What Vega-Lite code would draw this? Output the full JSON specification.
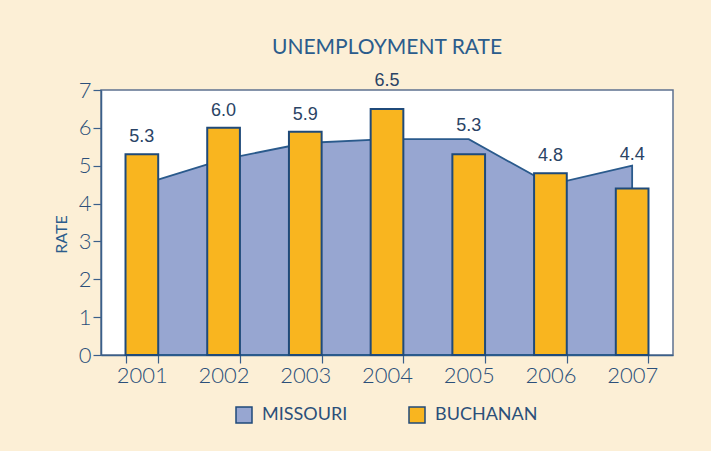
{
  "$schema": "https://vega.github.io/schema/vega-lite/v6.json",
  "width": 572,
  "height": 265,
  "autosize": "none",
  "padding": {"left": 101, "top": 90, "right": 38, "bottom": 96},
  "background": "#fcefd6",
  "title": {"text": "UNEMPLOYMENT RATE", "font": "Lato", "fontSize": 21, "fontWeight": 400, "color": "#2b5c8c", "offset": 14, "anchor": "middle"},
  "data": {"values": [
    {"year": "2001", "series": "Missouri", "rate": 4.5},
    {"year": "2002", "series": "Missouri", "rate": 5.17},
    {"year": "2003", "series": "Missouri", "rate": 5.6},
    {"year": "2004", "series": "Missouri", "rate": 5.7},
    {"year": "2005", "series": "Missouri", "rate": 5.7},
    {"year": "2006", "series": "Missouri", "rate": 4.5},
    {"year": "2007", "series": "Missouri", "rate": 5.0},
    {"year": "2001", "series": "Buchanan", "rate": 5.3},
    {"year": "2002", "series": "Buchanan", "rate": 6.0},
    {"year": "2003", "series": "Buchanan", "rate": 5.9},
    {"year": "2004", "series": "Buchanan", "rate": 6.5},
    {"year": "2005", "series": "Buchanan", "rate": 5.3},
    {"year": "2006", "series": "Buchanan", "rate": 4.8},
    {"year": "2007", "series": "Buchanan", "rate": 4.4}
  ]},
  "encoding": {
    "x": {"field": "year", "type": "ordinal", "scale": {"paddingInner": 0.6, "paddingOuter": 0.3},
      "axis": {"title": null, "labelAngle": 0, "labelFont": "Lato", "labelFontSize": 22, "labelFontWeight": 300, "labelColor": "#2b4f7a", "labelPadding": 2, "tickBand": "extent", "tickSize": 8, "tickColor": "#3a5f8a", "tickWidth": 1.2, "domainColor": "#3a5f8a", "domainWidth": 1.5}},
    "y": {"field": "rate", "type": "quantitative", "scale": {"domain": [0, 7]},
      "axis": {"title": "RATE", "titleFont": "Lato", "titleFontSize": 16, "titleFontWeight": 400, "titleColor": "#2b5c8c", "titlePadding": 9, "titleY": 144, "values": [0,1,2,3,4,5,6,7], "grid": false, "labelFont": "Lato", "labelFontSize": 22, "labelFontWeight": 300, "labelColor": "#2b4f7a", "labelPadding": 2, "tickSize": 8, "tickColor": "#3a5f8a", "tickWidth": 1.2, "domainColor": "#3a5f8a", "domainWidth": 1.5}}
  },
  "layer": [
    {
      "transform": [{"filter": "datum.series === 'Missouri'"}],
      "mark": {"type": "area", "stroke": "#2a5a8c", "strokeWidth": 1.8, "opacity": 1},
      "encoding": {"color": {"field": "series", "type": "nominal", "scale": {"domain": ["Missouri", "Buchanan"], "range": ["#97a6d1", "#f9b51f"]},
        "legend": {"title": null, "orient": "none", "direction": "horizontal", "legendX": 134, "legendY": 316, "symbolType": "square", "symbolSize": 256, "symbolStrokeColor": "#4a5a78", "symbolStrokeWidth": 1.5, "symbolOpacity": 1, "labelFont": "Lato", "labelFontSize": 18, "labelColor": "#2b4f7a", "labelOffset": 9, "columnPadding": 58, "labelExpr": "upper(datum.label)"}}}
    },
    {
      "transform": [{"filter": "datum.series === 'Buchanan'"}],
      "mark": {"type": "bar", "stroke": "#1f4a7a", "strokeWidth": 2},
      "encoding": {"color": {"field": "series", "type": "nominal"}}
    },
    {
      "transform": [{"filter": "datum.series === 'Buchanan' && (datum.year === '2001' || datum.year === '2002' || datum.year === '2003' || datum.year === '2006')"}],
      "mark": {"type": "text", "font": "Liberation Sans", "fontSize": 18, "color": "#2a4365", "baseline": "middle", "dy": -17},
      "encoding": {"text": {"field": "rate", "type": "quantitative", "format": ".1f"}}
    },
    {
      "transform": [{"filter": "datum.series === 'Buchanan' && (datum.year === '2004' || datum.year === '2005')"}],
      "mark": {"type": "text", "font": "Liberation Sans", "fontSize": 18, "color": "#2a4365", "baseline": "middle", "dy": -28},
      "encoding": {"text": {"field": "rate", "type": "quantitative", "format": ".1f"}}
    },
    {
      "transform": [{"filter": "datum.series === 'Buchanan' && datum.year === '2007'"}],
      "mark": {"type": "text", "font": "Liberation Sans", "fontSize": 18, "color": "#2a4365", "baseline": "middle", "dy": -33},
      "encoding": {"text": {"field": "rate", "type": "quantitative", "format": ".1f"}}
    }
  ],
  "config": {
    "view": {"fill": "white", "stroke": "#5d7190", "strokeWidth": 1.5},
    "legend": {"padding": 0}
  }
}
